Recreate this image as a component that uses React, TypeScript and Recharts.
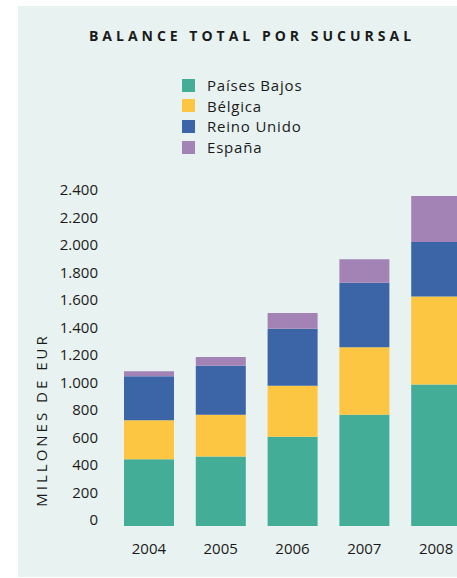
import { Bar, BarChart, Legend, XAxis, YAxis } from "recharts";

const years = ["2004", "2005", "2006", "2007", "2008"];
const paisesBajos = [485, 505, 650, 810, 1030];
const belgica = [285, 305, 370, 490, 640];
const reinoUnido = [320, 355, 415, 470, 395];
const espana = [35, 65, 115, 170, 335];
const yTicks = [0, 200, 400, 600, 800, 1000, 1200, 1400, 1600, 1800, 2000, 2200, 2400];

const series = [
  { key: "paisesBajos", name: "Países Bajos", color: "#43ad98" },
  { key: "belgica", name: "Bélgica", color: "#fcc542" },
  { key: "reinoUnido", name: "Reino Unido", color: "#3c65a8" },
  { key: "espana", name: "España", color: "#a383b5" },
];

const data = years.map((year, i) => ({
  year,
  paisesBajos: paisesBajos[i],
  belgica: belgica[i],
  reinoUnido: reinoUnido[i],
  espana: espana[i],
}));

const FONT = "'Open Sans', sans-serif";
const TEXT = "#1a1a1a";

function fmt(v: number) {
  return String(v).replace(/\B(?=(\d{3})+(?!\d))/g, ".");
}

function YTick({ x, y, payload }: any) {
  return (
    <text x={x} y={y - 1} textAnchor="end" fontSize={15} fontFamily={FONT} fill={TEXT}>
      {fmt(payload.value)}
    </text>
  );
}

function XTick({ x, y, payload }: any) {
  return (
    <text x={x} y={y + 28} textAnchor="middle" fontSize={15} fontFamily={FONT} fill={TEXT}>
      {payload.value}
    </text>
  );
}

function YLabel({ viewBox }: any) {
  const cx = 41;
  const cy = viewBox.y + viewBox.height - 106;
  return (
    <text
      x={cx}
      y={cy}
      transform={`rotate(-90 ${cx} ${cy})`}
      textAnchor="middle"
      dominantBaseline="central"
      fontSize={15}
      fontFamily={FONT}
      fill={TEXT}
      style={{ letterSpacing: 3 }}
    >
      MILLONES DE EUR
    </text>
  );
}

// legend in the series order (not the sorted payload)
function LegendBox() {
  return (
    <div style={{ fontFamily: FONT, fontSize: 15, color: TEXT }}>
      {series.map((s) => (
        <div key={s.key} style={{ display: "flex", alignItems: "center", height: 20.6 }}>
          <span style={{ width: 13, height: 13, background: s.color, display: "inline-block" }} />
          <span style={{ marginLeft: 12, letterSpacing: 0.8, lineHeight: "20px" }}>{s.name}</span>
        </div>
      ))}
    </div>
  );
}

export default function App() {
  return (
    <div style={{ position: "fixed", left: 0, top: 0, width: 457, height: 578, overflow: "hidden", background: "#fff" }}>
      <div style={{ position: "absolute", left: 18, top: 6, width: 439, height: 571, background: "#e8f3f1" }} />
      <svg width={457} height={60} style={{ position: "absolute", left: 0, top: 0 }}>
        <text
          x={252}
          y={41}
          textAnchor="middle"
          fontSize={14}
          fontWeight="bold"
          fontFamily={FONT}
          fill={TEXT}
          style={{ letterSpacing: 4 }}
        >
          BALANCE TOTAL POR SUCURSAL
        </text>
      </svg>
      <div style={{ position: "absolute", left: 0, top: 0 }}>
        <BarChart width={480} height={578} data={data} margin={{ top: 196, right: 8, left: 0, bottom: 0 }}>
          <XAxis
            dataKey="year"
            height={52}
            axisLine={false}
            tickLine={false}
            tickSize={0}
            tickMargin={0}
            tick={<XTick />}
          />
          <YAxis
            width={113}
            domain={[0, 2400]}
            ticks={yTicks}
            axisLine={false}
            tickLine={false}
            tickSize={0}
            tickMargin={15}
            tick={<YTick />}
            label={<YLabel />}
          />
          <Legend
            layout="vertical"
            align="center"
            verticalAlign="middle"
            content={<LegendBox />}
            wrapperStyle={{ top: 75, left: 182, width: 200 }}
          />
          {series.map((s) => (
            <Bar
              key={s.key}
              dataKey={s.key}
              name={s.name}
              stackId="a"
              fill={s.color}
              barSize={50}
              isAnimationActive={false}
            />
          ))}
        </BarChart>
      </div>
    </div>
  );
}
